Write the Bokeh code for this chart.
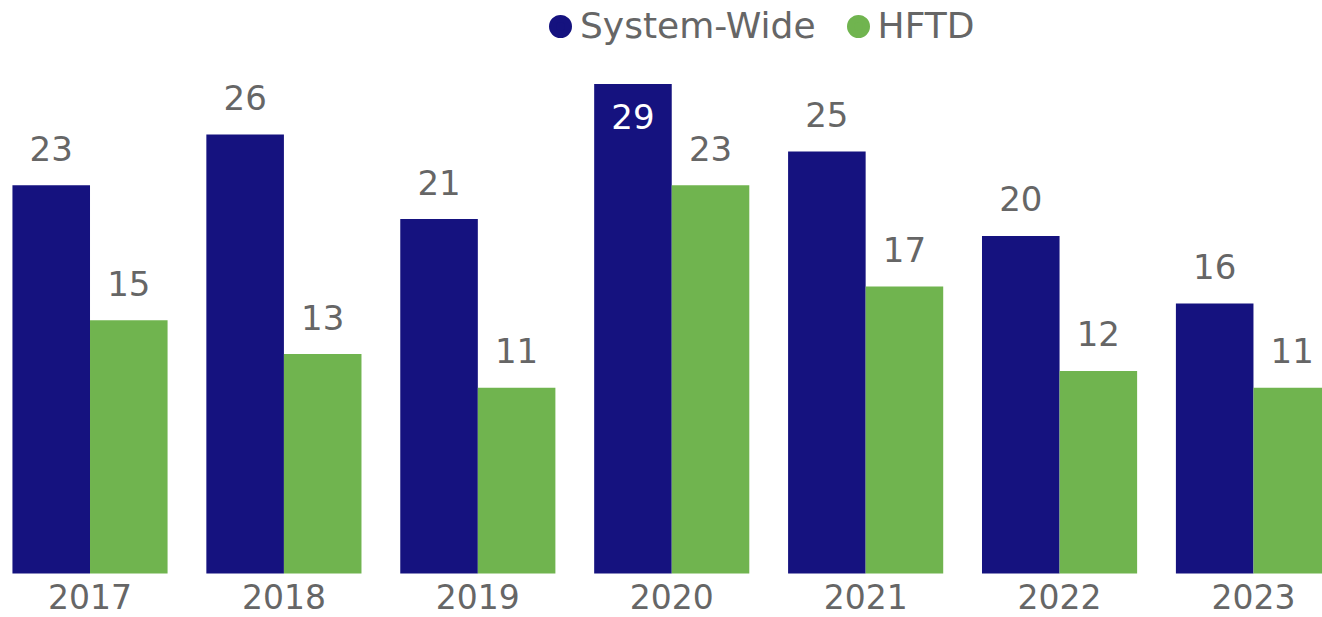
from bokeh.plotting import figure
from bokeh.models import ColumnDataSource, Range1d, FixedTicker, Legend, LegendItem
from bokeh.core.properties import value
from bokeh.transform import dodge
from bokeh.embed import file_html
from bokeh.resources import INLINE

# ---- data ----
years = ["2017", "2018", "2019", "2020", "2021", "2022", "2023"]
system_wide = [23, 26, 21, 29, 25, 20, 16]
hftd = [15, 13, 11, 23, 17, 12, 11]
series_names = ["System-Wide", "HFTD"]

NAVY = "#15127F"
GREEN = "#70B44F"
GRAY = "#666666"
FONT = "DejaVu Sans"

idx = list(range(len(years)))
top_val = max(system_wide + hftd)


def label_cols(vals):
    inside = [v == top_val for v in vals]
    return dict(
        lbl=[str(v) for v in vals],
        col=["white" if i else GRAY for i in inside],
        off=[33 if i else -37 for i in inside],
    )


sw_l = label_cols(system_wide)
hf_l = label_cols(hftd)
src = ColumnDataSource(dict(
    x=idx, year=years, sw=system_wide, hf=hftd,
    sw_lbl=sw_l["lbl"], sw_col=sw_l["col"], sw_off=sw_l["off"],
    hf_lbl=hf_l["lbl"], hf_col=hf_l["col"], hf_off=hf_l["off"],
))

p = figure(width=1322, height=617, output_backend="svg", toolbar_location=None,
           x_range=Range1d(-0.4616, 6.356), y_range=Range1d(-2.607, 33.945),
           min_border_left=0, min_border_right=0, min_border_top=0,
           min_border_bottom=0)
p.outline_line_color = None
p.xgrid.grid_line_color = None
p.ygrid.grid_line_color = None
p.yaxis.visible = False
p.background_fill_color = "white"
p.border_fill_color = "white"

p.vbar(x=dodge("x", -0.2), top="sw", bottom=0, width=0.4, source=src,
       fill_color=NAVY, line_color=None)
p.vbar(x=dodge("x", 0.2), top="hf", bottom=0, width=0.4, source=src,
       fill_color=GREEN, line_color=None)

p.text(x=dodge("x", -0.2), y="sw", text="sw_lbl", source=src,
       text_color="sw_col", y_offset="sw_off", text_align="center",
       text_baseline="middle", text_font=value(FONT), text_font_size="34px")
p.text(x=dodge("x", 0.2), y="hf", text="hf_lbl", source=src,
       text_color="hf_col", y_offset="hf_off", text_align="center",
       text_baseline="middle", text_font=value(FONT), text_font_size="34px")

nan = float("nan")
d1 = p.scatter(x=[nan], y=[nan], marker="circle", fill_color=NAVY,
               line_color=NAVY, line_width=7)
d2 = p.scatter(x=[nan], y=[nan], marker="circle", fill_color=GREEN,
               line_color=GREEN, line_width=7)

legend = Legend(items=[LegendItem(label=series_names[0], renderers=[d1]),
                       LegendItem(label=series_names[1], renderers=[d2])],
                location=(540, 571), orientation="horizontal",
                glyph_width=40, glyph_height=40, label_standoff=0,
                spacing=22, padding=0, margin=0,
                border_line_color=None, background_fill_alpha=0,
                label_text_font=FONT, label_text_font_size="36px",
                label_text_color=GRAY)
p.add_layout(legend)

xa = p.xaxis[0]
xa.fixed_location = 0
xa.ticker = FixedTicker(ticks=idx)
xa.major_label_overrides = {i: y for i, y in zip(idx, years)}
xa.axis_line_color = None
xa.major_tick_line_color = None
xa.minor_tick_line_color = None
xa.major_tick_out = 0
xa.major_tick_in = 0
xa.major_label_standoff = 11
xa.major_label_text_font = FONT
xa.major_label_text_font_size = "33px"
xa.major_label_text_color = GRAY

open("out.html", "w").write(file_html(p, INLINE))
